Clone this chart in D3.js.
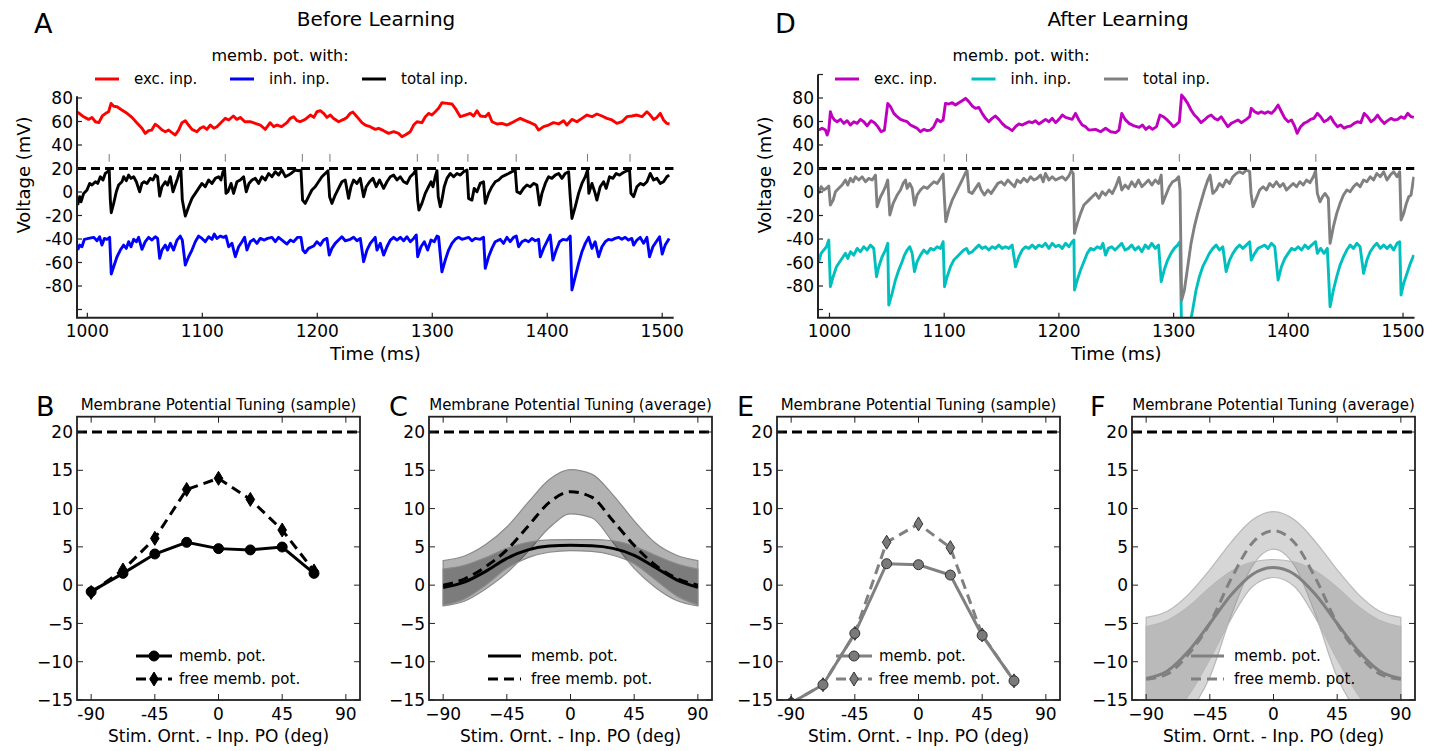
<!DOCTYPE html>
<html><head><meta charset="utf-8">
<script src="https://cdn.jsdelivr.net/npm/d3@7"></script>
<style>
body{margin:0;background:#fff}
text{font-family:"DejaVu Sans",sans-serif;fill:#000}
</style>
</head><body><script>
// ---------- membrane potential traces (time ms, voltage mV) ----------
const excBefore=[[991.6,68],[996.8,64],[1001,61.8],[1004,63.5],[1007,59.8],[1010,59],[1013,64.7],[1016,67],[1018.5,68.3],[1020.6,75.4],[1023,73],[1025.8,72.6],[1030,69.8],[1034.5,67],[1038.8,63.5],[1043,59],[1047.5,54.2],[1050.4,49.9],[1053.3,52.2],[1056,52.7],[1059,57.6],[1062,55.6],[1065,52.7],[1067.8,51.3],[1070.7,52.7],[1073.6,50.5],[1076.5,48.5],[1079.4,52.7],[1082.3,59],[1085.2,60.7],[1088,57],[1091,53.3],[1095.3,51.3],[1098.2,54.2],[1101,55.6],[1104,53.3],[1107,57],[1110,54.2],[1112.7,55.6],[1117,59.8],[1120,62.7],[1123,61.3],[1127,64.7],[1130,61.8],[1133,63.5],[1137,59.8],[1141.7,59.8],[1146,58.4],[1150.4,57],[1154.8,53.3],[1159,59],[1162,55.6],[1165,57],[1169,55.6],[1173.6,59],[1176.5,62.7],[1179.4,64.1],[1182.3,60.7],[1185,59.8],[1189.5,61.8],[1194,65.5],[1197,63.5],[1199.7,68.3],[1202.6,69.2],[1205.5,67],[1208.4,63.5],[1211.3,65.5],[1214,62.7],[1218.5,59.8],[1222.9,61.8],[1225.8,63.5],[1228.7,67],[1231,68],[1234.5,64.1],[1238.8,59],[1241.7,57],[1246,55.6],[1250.4,53.3],[1253.3,54.2],[1257.7,52.2],[1262,49.9],[1266.4,51.3],[1270.7,49.9],[1273.6,47.1],[1276.5,48.5],[1280.9,51.3],[1283.8,57],[1286.7,59.8],[1291,59],[1294,64.1],[1296.8,66.9],[1299.7,65.5],[1302.6,68.3],[1305.5,71.2],[1308.4,76],[1312.8,75.4],[1317.1,74.9],[1320,71.2],[1324.4,64.1],[1328.7,65.5],[1333,66.9],[1336,64.7],[1338.9,69.2],[1341.8,64.7],[1346.1,64.1],[1349,66.9],[1352,59.8],[1356.3,57.9],[1360.6,58.4],[1365,57],[1369.3,59],[1373.6,61.3],[1376.5,62.7],[1380.9,60.7],[1385.2,59],[1389.6,57],[1392.5,52.7],[1396.8,55.6],[1401.2,57],[1405.5,59],[1409.9,57.9],[1414.2,60.7],[1417.1,57],[1421.5,61.8],[1425.8,59.8],[1430.2,62.7],[1434.5,65.5],[1438.9,64.1],[1443.2,66.4],[1447.6,64.7],[1451.9,62.7],[1456.3,61.3],[1460.6,58.4],[1465,59.8],[1469.3,64.1],[1473.6,64.7],[1478,65.5],[1482.4,64.1],[1486.7,68.3],[1489.6,65.5],[1492.5,61.8],[1495.4,63.5],[1498.3,66.9],[1501.2,61.3],[1504,58.4],[1506.4,57.9]];

const inhBefore=[[991.6,-49.4],[993.3,-45.2],[995.3,-46.6],[997.4,-40.3],[1001.1,-39.5],[1005.5,-38.6],[1008.4,-41.5],[1010.7,-38.1],[1012.7,-45.2],[1014.8,-39.5],[1017,-40.3],[1019.4,-38.6],[1020.8,-69.8],[1022.9,-63.6],[1025.8,-55.1],[1028.7,-49.4],[1031.6,-45.2],[1033.9,-48],[1035.9,-42.3],[1038,-46.6],[1040.3,-40.3],[1042.6,-42.3],[1044.6,-38.6],[1047.5,-48.8],[1050.4,-42.3],[1053.3,-38.6],[1056.2,-40.9],[1059.1,-38.1],[1061.1,-39.5],[1062.9,-56.5],[1064.9,-49.4],[1067.8,-45.2],[1069.8,-49.4],[1072.2,-43.7],[1075,-49.4],[1078,-40.9],[1080.8,-37.5],[1082.6,-40.9],[1085.2,-62.2],[1088.1,-55.1],[1091,-49.4],[1093.9,-42.3],[1096.8,-37.5],[1099.7,-39.5],[1102.6,-42.3],[1105.5,-38.1],[1108.4,-40.3],[1110.4,-35.8],[1112.7,-39.5],[1115.6,-37.5],[1118.5,-38.6],[1120.6,-37.5],[1122.9,-46.6],[1125.8,-43.7],[1128.7,-55.1],[1131.6,-46.6],[1134.5,-42.3],[1136.8,-38.6],[1138.8,-49.4],[1141.7,-42.3],[1144.6,-40.3],[1147.5,-43.7],[1150.4,-39.5],[1153.9,-40.9],[1156.8,-39.5],[1160.6,-38.6],[1163.5,-42.3],[1166.3,-38.6],[1169.3,-40.9],[1173.6,-44.3],[1176.5,-40.9],[1179.4,-42.3],[1182.9,-38.6],[1185.8,-38.6],[1187.5,-49.4],[1189.5,-51.7],[1192.4,-48],[1196.8,-46],[1199.7,-42.3],[1202.6,-45.2],[1205.5,-40.9],[1208.4,-39.5],[1210.4,-53.7],[1212.7,-48],[1215.6,-43.7],[1218.5,-40.9],[1221.4,-38.1],[1224.3,-41.5],[1226.4,-40.9],[1228.7,-40.3],[1231.6,-38.6],[1234.5,-41.5],[1237.4,-39.5],[1240.3,-59.3],[1243.2,-49.4],[1246.1,-43.7],[1250.4,-38.6],[1251.9,-49.4],[1254.8,-43.7],[1257.7,-53.7],[1260.6,-46.6],[1263.5,-40.9],[1266.4,-38.6],[1269.3,-40.9],[1272.2,-38.6],[1275.1,-41.5],[1278,-38.1],[1280.9,-42.3],[1283.8,-39.5],[1286.1,-36.6],[1287.3,-55.1],[1290.2,-46.6],[1293.1,-42.3],[1296,-49.4],[1298.9,-40.9],[1301.8,-42.3],[1304.1,-37.5],[1305.5,-38.1],[1308.4,-67.9],[1311.3,-57.9],[1314.2,-49.4],[1317.1,-43.7],[1320,-40.3],[1322.9,-38.6],[1325.8,-40.3],[1328.7,-39.5],[1331.6,-38.6],[1334.5,-41.5],[1337.4,-39.5],[1341.7,-40.3],[1344.6,-38.6],[1346.1,-65],[1349,-55.1],[1351.9,-48],[1354.8,-42.3],[1359.1,-40.3],[1362,-43.7],[1364.9,-38.6],[1367.8,-42.3],[1370.7,-38.6],[1373.1,-37.5],[1375.1,-46.6],[1378,-42.3],[1380.9,-40.9],[1383.8,-42.3],[1386.7,-39.5],[1389.6,-41.5],[1392.5,-40.3],[1394,-55.1],[1396.8,-48],[1399.7,-42.3],[1402.6,-36.6],[1404.9,-57.9],[1407.8,-49.4],[1410.7,-42.3],[1413.6,-40.3],[1417.1,-40.9],[1420,-37.5],[1421.5,-83.4],[1424.4,-72.1],[1427.3,-60.8],[1430.2,-50.8],[1433.1,-43.7],[1436,-38.6],[1438.9,-48],[1441.7,-42.3],[1444.7,-55.1],[1447.6,-46.6],[1450.5,-42.3],[1453.3,-40.3],[1456.2,-40.9],[1459.1,-39.5],[1462,-38.6],[1464.9,-40.3],[1467.8,-38.6],[1470.7,-40.9],[1473.6,-39.5],[1475.1,-45.2],[1478,-40.9],[1480.9,-38.6],[1483.8,-43.7],[1486.7,-38.6],[1489,-55.1],[1491.9,-46.6],[1494.8,-42.3],[1497.7,-38.1],[1500,-52.8],[1502.6,-45.2],[1506.1,-39.5]];

const totalBefore=[[991.6,-11.1],[993.3,-4],[994.5,-8.3],[996.8,-1.2],[999.7,1.7],[1002,7.3],[1004,5.9],[1007,8.7],[1009,7.3],[1011.3,13],[1013.6,10.2],[1015.6,15.8],[1017.7,17.3],[1019,18.7],[1020,-6.9],[1020.8,-17.6],[1022.9,-9.7],[1025.2,0.2],[1027.2,5.9],[1030.1,8.7],[1031.6,13],[1033.9,9.6],[1035.9,14.4],[1038,11.6],[1040.3,13],[1042.6,8.7],[1045.5,0.2],[1047.5,7.3],[1049.5,8.7],[1051.9,7.3],[1054.8,11.6],[1057,10.2],[1059.1,14.4],[1061.1,13],[1062.9,-3.5],[1064.9,4.5],[1067.8,8.7],[1069.8,5.9],[1072.2,13],[1074.5,0.2],[1076.5,5.9],[1078.5,11.6],[1080.3,17.3],[1081.4,18.7],[1082.6,-6.9],[1085.2,-20.5],[1088.1,-12.5],[1091,-5.4],[1093.9,-1.2],[1096.8,3.1],[1099.7,7.3],[1102.6,4.5],[1105.5,10.2],[1108.4,7.3],[1111.3,11.6],[1114.2,13],[1116.2,10.2],[1118,17.3],[1119.4,18.7],[1120.6,-1.2],[1122.3,0.2],[1125,7.3],[1127.2,-1.2],[1130.1,8.7],[1133,10.2],[1135.9,13],[1138.2,0.2],[1140.6,7.3],[1143.2,10.2],[1146.1,11.6],[1149,7.3],[1151.9,13],[1154.8,10.2],[1157.7,15.8],[1160.6,13],[1163.5,17.3],[1166.3,14.4],[1169.3,18.7],[1172.2,13],[1175,14.4],[1178,16.4],[1180.8,18.7],[1183.7,18.1],[1185.8,18.7],[1187.2,-6.9],[1189.5,-9.7],[1192.4,-4],[1195.3,1.7],[1198.2,4.5],[1201.1,8.7],[1204,13],[1206.9,15.8],[1209.3,18.1],[1210.7,-4],[1212.7,-9.7],[1215.6,-2.6],[1218.5,3.1],[1221.4,8.7],[1224.3,10.2],[1227.2,-5.4],[1229.3,4.5],[1231.6,10.2],[1234.5,7.3],[1237.4,11.6],[1240.3,-4],[1242.6,4.5],[1245.5,8.7],[1248.4,11.6],[1251.3,4.5],[1254.2,10.2],[1257.7,3.1],[1260.6,8.7],[1263.5,13],[1266.4,14.4],[1269.3,10.2],[1272.2,13],[1275.1,8.7],[1278,7.3],[1280.9,13],[1283.8,15.8],[1285.8,18.7],[1287.3,-6.9],[1288.4,-15.4],[1291,-9.7],[1293.9,-1.2],[1296.8,4.5],[1298.9,8.7],[1300.6,4.5],[1302.6,13],[1304.1,18.1],[1305.2,-4],[1307,-12.5],[1308.4,-6.9],[1310.4,4.5],[1312.8,11.6],[1315.7,15.8],[1318.6,13],[1321.5,15.8],[1324.4,14.4],[1327.3,17.3],[1330.2,18.7],[1331.6,-5.4],[1334.5,-6.9],[1336.5,3.1],[1338.9,0.2],[1341.7,7.3],[1344.6,8.7],[1346.1,-9.7],[1349,-1.2],[1351.9,4.5],[1354.8,8.7],[1357.7,10.2],[1360.6,13],[1363.5,14.4],[1366.4,15.8],[1369.3,17.3],[1372.2,18.7],[1373.6,0.2],[1376.5,-1.2],[1379.4,3.1],[1382.3,5.9],[1385.2,4.5],[1388.1,7.3],[1391,5.9],[1393.3,-11.1],[1395.4,-1.2],[1398.3,7.3],[1401.2,13],[1404,11.6],[1407,14.4],[1409.9,15.8],[1412.8,11.6],[1415.7,15.8],[1418.6,17.3],[1420,-4],[1421.5,-22.5],[1424.4,-12.5],[1427.3,-1.2],[1430.2,7.3],[1433.1,13],[1435.1,18.7],[1436.2,-1.2],[1438.9,7.3],[1441.7,-1.2],[1443.2,-6.9],[1446.1,4.5],[1449,8.7],[1451.3,3.1],[1454.2,13],[1457.1,11.6],[1460,15.8],[1462.9,14.4],[1465.8,16.4],[1469.3,18.1],[1471.6,18.7],[1472.8,-1.2],[1475.1,-4],[1478,4.5],[1480.9,7.3],[1483.8,5.9],[1486.7,8.7],[1489.6,15.8],[1492.5,10.2],[1495.4,11.6],[1498.3,7.3],[1501.2,8.7],[1504,13],[1506.1,14.4]];

const excAfter=[[990.7,52.7],[993.6,54.2],[996.5,52.7],[998,48.5],[999.4,52.7],[1000.8,68.3],[1002.3,64.1],[1004.3,61.3],[1006.7,59.8],[1009.6,61.8],[1012.5,58.4],[1015.4,60.7],[1018.3,57],[1021.2,59.8],[1024.1,58.4],[1027,61.8],[1029.9,59.8],[1032.8,56.2],[1036.3,60.7],[1039.2,59],[1042.1,55.6],[1045,51.3],[1047.9,52.7],[1050.8,75.4],[1053.2,72.6],[1056.1,66.9],[1059,64.1],[1061.9,61.8],[1064.8,60.7],[1067.7,59.8],[1070.6,57],[1073.5,55.6],[1076.4,54.2],[1079.3,51.3],[1082.2,53.3],[1085.1,52.2],[1088,52.7],[1090.9,55.6],[1093.9,61.8],[1096.8,59.8],[1099.1,61.3],[1101.1,75.4],[1104,74.9],[1107,76],[1109.9,74],[1112.8,76],[1115.7,77.7],[1118.6,79.7],[1121.5,76.9],[1124.4,73.2],[1127.3,71.2],[1130.2,72],[1133.1,66.9],[1136,62.7],[1138.9,59.8],[1141.8,62.7],[1144.7,64.7],[1147.6,61.8],[1150.5,58.4],[1153.5,55.6],[1156.4,54.2],[1159.3,52.2],[1162.2,55.6],[1165.1,57.9],[1168,57],[1170.9,58.4],[1173.8,59.8],[1176.7,59],[1179.6,60.7],[1182.5,57.9],[1185.4,59.8],[1188.3,61.8],[1191.3,59.8],[1194.2,62.7],[1197.1,59],[1200,61.8],[1202.9,65.5],[1205.8,63.5],[1208.7,62.7],[1211.6,61.8],[1214.5,66.9],[1217.4,61.3],[1220.3,57],[1223.2,55.6],[1226.1,52.7],[1232,53.3],[1236.4,51.3],[1240.7,54.2],[1245.1,51.3],[1249.5,50.5],[1252.4,52.7],[1254.8,66.9],[1257.7,61.8],[1261.2,58.4],[1265.6,56.2],[1270,55],[1272.9,57],[1275.8,53.3],[1278.7,55.6],[1281.6,53.3],[1285.1,55.6],[1288.1,65.5],[1291,64.1],[1293.9,61.8],[1296.8,59],[1299.7,55.6],[1302,57],[1305,59.8],[1307,82.5],[1309.4,79.7],[1312.3,75.4],[1315.2,69.8],[1318.1,65.5],[1321,62.7],[1323.9,59],[1326.9,61.3],[1329.8,64.1],[1332.7,65.5],[1335.6,62.7],[1338.5,61.3],[1341.5,64.1],[1344.4,59.8],[1347.3,55.6],[1350.2,58.4],[1353.1,59.8],[1356.1,61.3],[1359,59],[1363.4,61.8],[1366.3,64.1],[1367.7,71.2],[1370.7,68.3],[1373.6,66.9],[1376.5,68.3],[1379.4,66.9],[1382.3,68.3],[1385.3,66.9],[1388.2,69.8],[1391.1,74],[1394,68.3],[1397,62.7],[1399.9,59.8],[1402.8,61.3],[1405.7,55.6],[1407.7,49.9],[1410.7,55.6],[1413.6,58.4],[1416.5,59.8],[1419.4,61.8],[1422.3,62.7],[1425.3,66.9],[1428.2,64.1],[1431.1,59.8],[1434,61.3],[1436.9,64.1],[1439.9,59],[1442.8,55.6],[1445.7,57],[1448.6,54.2],[1451.5,55.6],[1454.5,56.2],[1457.4,58.4],[1460.3,59.8],[1463.2,59],[1466.1,66.9],[1469.1,64.1],[1472,59.8],[1474.9,61.8],[1477.8,65.5],[1480.8,61.3],[1483.7,58.4],[1486.6,60.7],[1489.5,62.7],[1492.4,61.3],[1495.4,61.8],[1498.3,64.1],[1501.2,62.7],[1504.1,66.9],[1507,64.1],[1509.4,63.5]];

const inhAfter=[[990.7,-59.3],[992.7,-52.2],[995,-49.4],[997.4,-46.6],[999.4,-40.9],[1000.8,-80.6],[1003.2,-72.1],[1006.1,-63.6],[1009,-59.3],[1011.9,-55.1],[1013.9,-52.2],[1016,-56.5],[1018.3,-50.8],[1021.2,-53.7],[1024.1,-48],[1027,-50.8],[1029.9,-46.6],[1032.8,-49.4],[1035.7,-45.2],[1038.6,-48],[1041,-72.1],[1043,-63.6],[1045.9,-55.1],[1048.8,-49.4],[1050.8,-43.7],[1051.7,-96.2],[1054.6,-86.3],[1057.5,-74.9],[1060.4,-66.4],[1063.3,-59.3],[1065.4,-53.7],[1067.7,-49.4],[1070,-46.6],[1072.1,-52.2],[1074.1,-67.8],[1076.4,-59.3],[1079.3,-53.7],[1082.2,-49.4],[1085.2,-52.2],[1088.1,-48],[1091,-49.4],[1093.9,-46.6],[1096.8,-48],[1099.1,-42.3],[1100.3,-80.6],[1102.6,-72.1],[1105.5,-63.6],[1108.4,-57.9],[1111.3,-55.1],[1114.2,-52.2],[1117.1,-49.4],[1119.5,-48],[1121.5,-52.2],[1124.4,-50.8],[1127.3,-48],[1130.2,-45.2],[1133.1,-48],[1136,-46.6],[1138.9,-49.4],[1141.8,-46.6],[1144.7,-48],[1147.6,-45.2],[1150.5,-48],[1153.4,-46.6],[1156.4,-48],[1159.3,-45.2],[1162.2,-63.6],[1165.1,-55.1],[1168,-49.4],[1170.9,-46.6],[1173.8,-48],[1176.7,-45.2],[1179.6,-48],[1182.5,-45.2],[1185.4,-46.6],[1188.3,-43.7],[1191.3,-48],[1194.2,-43.7],[1197.1,-46.6],[1200,-45.2],[1202.9,-48],[1205.8,-43.7],[1208.7,-46.6],[1211.6,-42.3],[1213.1,-40.9],[1213.6,-83.4],[1216,-74.9],[1218.9,-66.4],[1221.8,-59.3],[1224.7,-52.2],[1227.6,-48],[1230.5,-49.4],[1233.4,-46.6],[1236.4,-48],[1238.4,-43.7],[1240.7,-53.7],[1243.1,-48],[1246,-46.6],[1248.9,-49.4],[1251.8,-46.6],[1254.8,-43.7],[1257.7,-49.4],[1260.6,-48],[1263.5,-45.2],[1266.4,-49.4],[1269.4,-46.6],[1272.3,-50.8],[1275.2,-45.2],[1278.1,-48],[1281,-43.7],[1284,-48],[1286.9,-45.2],[1289.2,-76.3],[1291.8,-66.4],[1294.8,-57.9],[1297.7,-52.2],[1300.6,-48],[1303.5,-45.2],[1305.6,-42.3],[1307,-120],[1310.8,-131],[1313.7,-114.6],[1316.6,-100.4],[1319.6,-83.4],[1322.5,-72.1],[1325.4,-63.6],[1328.3,-57.9],[1331.2,-52.2],[1334.2,-48],[1337.1,-45.2],[1340,-49.4],[1342.9,-46.6],[1345.8,-67.8],[1348.8,-57.9],[1351.7,-52.2],[1354.6,-48],[1357.5,-45.2],[1360.4,-48],[1363.4,-45.2],[1366.3,-42.3],[1367.7,-57.9],[1370.7,-52.2],[1373.6,-48],[1376.5,-46.6],[1379.4,-45.2],[1382.3,-48],[1385.3,-43.7],[1388.2,-46.6],[1391.1,-74.9],[1394,-63.6],[1397,-56.5],[1399.9,-52.2],[1402.8,-48],[1405.7,-49.4],[1408.6,-46.6],[1411.5,-49.4],[1414.5,-45.2],[1417.4,-48],[1420.3,-45.2],[1423.8,-42.3],[1425.3,-52.2],[1428.2,-48],[1431.1,-52.2],[1434,-48],[1436.4,-97.6],[1439.3,-83.4],[1442.2,-72.1],[1445.1,-62.2],[1448.1,-55.1],[1451,-49.4],[1453.9,-45.2],[1456.8,-48],[1459.7,-43.7],[1462.6,-46.6],[1465.6,-69.2],[1468.5,-57.9],[1471.4,-50.8],[1474.3,-46.6],[1477.2,-43.7],[1480.2,-48],[1483.1,-45.2],[1486,-48],[1488.9,-45.2],[1491.8,-49.4],[1494.8,-43.7],[1497.1,-42.3],[1498.3,-87.7],[1500.6,-77.7],[1503.5,-69.2],[1506.4,-60.7],[1509.4,-53.7]];

const totalAfter=[[990.7,-1.2],[992.7,4.5],[995,1.7],[997.4,3.1],[999.4,5.1],[1000.8,-11.1],[1003.2,-6.9],[1005.2,0.2],[1008.1,3.1],[1011,5.9],[1013.9,10.2],[1016,5.9],[1018.3,11.6],[1020.6,8.7],[1022.6,13],[1025.6,10.2],[1028.5,13],[1031.4,8.7],[1034.3,11.6],[1037.2,10.2],[1040.1,14.4],[1041.5,-12.5],[1044.5,-4],[1046.8,0.2],[1048.8,4.5],[1050.8,10.2],[1052.6,-19.6],[1055.5,-9.7],[1059,-2.6],[1061.9,1.7],[1064.2,7.3],[1066.3,10.2],[1067.7,3.1],[1070,7.3],[1072.1,3.1],[1074.1,-11.1],[1076.4,-2.6],[1079.3,1.7],[1082.2,4.5],[1085.2,3.1],[1088.1,5.9],[1091,8.7],[1093.9,7.3],[1096.8,11.6],[1099.1,15.3],[1100.3,-6.9],[1101.4,-25.3],[1104,-15.4],[1107,-6.9],[1109.9,-1.2],[1112.8,4.5],[1115.7,10.2],[1118.6,16.4],[1120,18.1],[1121.5,0.2],[1124.4,-1.2],[1127.3,3.1],[1130.2,7.3],[1132.2,1.7],[1135.1,-2.6],[1138.1,1.7],[1141,-1.2],[1143.9,3.1],[1146.8,7.3],[1149.7,8.7],[1152.6,5.9],[1155.5,10.2],[1158.4,7.3],[1161.3,4.5],[1163.6,10.2],[1166.5,7.9],[1169.4,11.6],[1172.4,8.7],[1175.3,13],[1178.2,10.2],[1181.1,11.6],[1184,14.4],[1186.3,8.7],[1188.3,15.8],[1191.3,10.2],[1194.2,13],[1197.1,10.2],[1200,11.6],[1202.9,13],[1205.8,10.2],[1208.7,13.6],[1210.7,18.1],[1212.5,15.8],[1213.6,-35.2],[1216,-26.7],[1218.9,-18.2],[1221.8,-11.1],[1226.1,-6.9],[1229.1,-4],[1232,-1.2],[1234.9,-5.4],[1237.8,0.2],[1240.7,-2.6],[1243.7,1.7],[1246.6,-1.2],[1249.5,4.5],[1252.4,12.4],[1254.8,1.7],[1257.7,5.9],[1260.6,3.1],[1263.5,8.7],[1266.4,4.5],[1269.4,10.2],[1272.3,4.5],[1275.2,7.3],[1278.1,10.2],[1281,5.9],[1284,10.2],[1286.9,7.3],[1289.2,14.4],[1290.4,-9.7],[1293.3,-2.6],[1296.2,4.5],[1299.1,8.7],[1302,10.2],[1304.4,13],[1305.6,1.7],[1307,-92],[1309.4,-83.4],[1312.3,-63.6],[1315.2,-43.7],[1318.1,-29.5],[1321,-18.2],[1323.9,-8.3],[1326.9,1.7],[1329.8,10.2],[1331.8,14.4],[1334.2,-1.2],[1337.1,1.7],[1340,7.3],[1342.9,4.5],[1345.8,10.2],[1348.8,7.3],[1351.7,13],[1354.6,15.8],[1357.5,17.3],[1360.4,15.8],[1363.4,18.7],[1366.3,17.3],[1367.5,-1.2],[1369.2,-12.5],[1372.1,-5.4],[1375,1.7],[1378,4.5],[1380.9,1.7],[1383.8,7.3],[1386.7,4.5],[1389.6,8.7],[1392.6,4.5],[1395.5,7.3],[1398.4,1.7],[1401.3,4.5],[1404.2,7.3],[1407.2,4.5],[1410.1,8.7],[1413,5.9],[1415.9,10.2],[1418.8,7.9],[1421.8,13],[1423.8,18.1],[1425.3,-1.2],[1427.6,-8.3],[1429.9,-4],[1432,-1.2],[1434.9,-5.4],[1436.4,-43.7],[1439.3,-29.5],[1442.2,-18.2],[1445.1,-9.7],[1448.1,-2.6],[1451,1.7],[1453.9,0.2],[1456.8,4.5],[1459.7,7.3],[1462.6,4.5],[1465.6,10.2],[1468.5,8.7],[1471.4,13],[1474.3,10.2],[1477.2,15.8],[1480.2,13],[1483.1,17.3],[1486,10.2],[1488.9,14.4],[1491.8,17.3],[1494.8,13],[1497.1,17.3],[1498.3,-23.9],[1500.6,-18.2],[1502.9,-9.7],[1505,-4],[1507,-2.6],[1509.4,13]];

// spike times (ms)
const spikesBefore=[991.5,1019,1081,1120,1187,1211,1287,1305,1331,1373,1435,1472];
const spikesAfter=[1100,1119.5,1212.5,1305,1367,1424];

// ---------- tuning data ----------
const sampleOri=[-90,-67.5,-45,-22.5,0,22.5,45,67.5];
const membBefore=[-0.85,1.54,4.07,5.59,4.77,4.6,4.98,1.54];
const freeBefore=[-0.95,1.98,6.11,12.5,13.95,11.2,7.2,1.85];
const membAfter=[-15.4,-13.0,-6.3,2.8,2.67,1.32,-6.56,-12.5];
const freeAfter=[-15.4,-13.0,-6.3,5.6,8.0,4.9,-6.5,-12.5];

const avgOri=[-90,-75,-60,-45,-30,-15,0,15,30,45,60,75,90];
// before learning averages
const membAvgBefore=[-0.3,0.4,1.8,3.5,4.6,5.1,5.2,5.15,4.8,3.9,2.3,0.7,-0.3];
const membAvgBeforeHi=[2.1,2.6,3.6,4.8,5.6,5.9,5.95,5.95,5.8,5.1,3.9,2.8,2.1];
const membAvgBeforeLo=[-2.6,-1.8,0.0,2.2,3.6,4.3,4.5,4.4,3.9,2.8,0.7,-1.4,-2.6];
const freeAvgBefore=[0.0,0.8,2.4,4.6,7.7,10.8,12.2,11.5,8.4,5.2,2.6,0.9,0.0];
const freeAvgBeforeHi=[3.2,3.8,5.3,7.6,10.8,13.8,15.1,14.5,11.8,8.4,5.5,3.9,3.2];
const freeAvgBeforeLo=[-2.7,-2.1,-0.5,1.6,4.4,7.5,9.3,8.8,5.6,2.2,-0.3,-2.0,-2.7];
// after learning averages
const membAvgAfter=[-12.2,-11.2,-8.6,-5.0,-1.3,1.4,2.3,1.4,-1.3,-5.0,-8.6,-11.2,-12.2];
const membAvgAfterHi=[-5.4,-4.6,-2.8,-0.3,1.8,3.0,3.35,3.0,1.8,-0.3,-2.8,-4.6,-5.4];
const membAvgAfterLo=[-19,-17.8,-14.4,-9.7,-4.4,-0.2,1.0,-0.2,-4.4,-9.7,-14.4,-17.8,-19];
const freeAvgAfter=[-12.3,-11.6,-9.0,-5.0,0.8,5.5,7.1,5.5,0.8,-5.0,-9.0,-11.6,-12.3];
const freeAvgAfterHi=[-4.2,-3.4,-1.2,2.0,5.6,8.5,9.6,8.5,5.6,2.0,-1.2,-3.4,-4.2];
const freeAvgAfterLo=[-20.4,-19.8,-16.8,-12.0,-4.0,2.5,4.7,2.5,-4.0,-12.0,-16.8,-19.8,-20.4];

const timeTicks=[1000,1100,1200,1300,1400,1500];
const voltTicks=[-100,-80,-60,-40,-20,0,20,40,60,80,100];
const voltLabels=[-80,-60,-40,-20,0,20,40,60,80];
const tuneYTicks=[-15,-10,-5,0,5,10,15,20];
const oriTicks=[-90,-45,0,45,90];
const threshold=20;

// ---------- drawing ----------
const svg=d3.select("body").append("svg").attr("width",1439).attr("height",751);
const defs=svg.append("defs");
const hy=v=>String(v);
const um=v=>v<0?"\u2212"+Math.abs(v):String(v);
let clipN=0;
function clip(x0,y0,w,h){const id="clip"+(clipN++);
  defs.append("clipPath").attr("id",id).append("rect").attr("x",x0).attr("y",y0).attr("width",w).attr("height",h);
  return "url(#"+id+")";}

function tracePanel(o){
  const g=svg.append("g");
  const pxmv=1.175, zero=192;
  const x=d3.scaleLinear().domain(o.tDom).range([o.left,o.right]);
  const y=d3.scaleLinear().domain(o.vDom).range([zero-o.vDom[0]*pxmv,zero-o.vDom[1]*pxmv]);
  const cp=clip(o.left,y(o.vDom[1])-2,o.right-o.left,y(o.vDom[0])-y(o.vDom[1])+2);
  const plot=g.append("g").attr("clip-path",cp);
  const line=d3.line().x(d=>x(d[0])).y(d=>y(d[1]));
  o.series.forEach(s=>plot.append("path").datum(s.data).attr("d",line)
    .attr("fill","none").attr("stroke",s.color).attr("stroke-width",2.9).attr("stroke-linejoin","round"));
  plot.append("line").attr("x1",x(o.tDom[0])).attr("x2",x(o.tDom[1])).attr("y1",y(threshold)).attr("y2",y(threshold))
    .attr("stroke","#000").attr("stroke-width",3).attr("stroke-dasharray","9,5");
  plot.selectAll("line.sp").data(o.spikes).enter().append("line").attr("class","sp")
    .attr("x1",d=>x(d)).attr("x2",d=>x(d)).attr("y1",y(32.3)).attr("y2",y(25.8))
    .attr("stroke","#777").attr("stroke-width",1);
  // spines
  const yb=y(o.vDom[0]), yt=y(o.vDom[1]);
  g.append("line").attr("x1",o.left).attr("x2",o.left).attr("y1",yt).attr("y2",yb).attr("stroke","#222").attr("stroke-width",2);
  g.append("line").attr("x1",o.left-1).attr("x2",o.right).attr("y1",yb).attr("y2",yb).attr("stroke","#222").attr("stroke-width",2);
  voltTicks.filter(v=>v>=o.vDom[0]&&v<=o.vDom[1]).forEach(v=>{
    g.append("line").attr("x1",o.left).attr("x2",o.left+5).attr("y1",y(v)).attr("y2",y(v)).attr("stroke","#222").attr("stroke-width",1.2);});
  voltLabels.forEach(v=>g.append("text").attr("x",o.left-4).attr("y",y(v)).attr("dy","0.36em")
    .attr("text-anchor","end").attr("font-size",17).text(hy(v)));
  timeTicks.forEach(t=>{
    g.append("line").attr("x1",x(t)).attr("x2",x(t)).attr("y1",yb).attr("y2",yb-5).attr("stroke","#222").attr("stroke-width",1.2);
    g.append("text").attr("x",x(t)).attr("y",yb+19).attr("text-anchor","middle").attr("font-size",17).text(t);});
  g.append("text").attr("x",(o.left+o.right)/2).attr("y",360).attr("text-anchor","middle").attr("font-size",18).text("Time (ms)");
  g.append("text").attr("transform",`translate(${o.ylabX},175) rotate(-90)`).attr("text-anchor","middle").attr("font-size",18).text("Voltage (mV)");
  g.append("text").attr("x",o.titleX).attr("y",26).attr("text-anchor","middle").attr("font-size",20).text(o.title);
  g.append("text").attr("x",o.letterX).attr("y",33).attr("font-size",27).text(o.letter);
  // legend
  g.append("text").attr("x",o.legTitleX).attr("y",61).attr("text-anchor","middle").attr("font-size",16).text("memb. pot. with:");
  o.series.forEach((s,i)=>{
    const lx=o.legX[i];
    g.append("line").attr("x1",lx).attr("x2",lx+24).attr("y1",79).attr("y2",79).attr("stroke",s.color).attr("stroke-width",3);
    g.append("text").attr("x",lx+39).attr("y",84).attr("font-size",15).text(s.name);
  });
}

tracePanel({left:77,right:673.7,tDom:[991,1510],vDom:[-107,81.5],
  series:[{data:excBefore,color:"#ff0000",name:"exc. inp."},{data:inhBefore,color:"#0000ff",name:"inh. inp."},{data:totalBefore,color:"#000000",name:"total inp."}],
  spikes:spikesBefore,title:"Before Learning",titleX:376,letter:"A",letterX:34,ylabX:30,legTitleX:280,legX:[95,230,362]});
tracePanel({left:818,right:1414.5,tDom:[990,1510],vDom:[-107,100],
  series:[{data:excAfter,color:"#bf00bf",name:"exc. inp."},{data:inhAfter,color:"#00bfbf",name:"inh. inp."},{data:totalAfter,color:"#808080",name:"total inp."}],
  spikes:spikesAfter,title:"After Learning",titleX:1118,letter:"D",letterX:775,ylabX:771,legTitleX:1021,legX:[835,971.5,1104]});

function tuneFrame(o){
  const g=svg.append("g");
  const x=d3.scaleLinear().domain([-100,100]).range([o.left,o.left+283]);
  const y=d3.scaleLinear().domain([-15,22]).range([700,416.7]);
  const cp=clip(o.left,416.7,283,283.3);
  const plot=g.append("g").attr("clip-path",cp);
  plot.append("line").attr("x1",o.left).attr("x2",o.left+283).attr("y1",y(threshold)).attr("y2",y(threshold))
    .attr("stroke","#000").attr("stroke-width",3).attr("stroke-dasharray","10,5");
  const fr=g.append("g");
  fr.append("rect").attr("x",o.left).attr("y",416.7).attr("width",283).attr("height",283.3)
    .attr("fill","none").attr("stroke","#222").attr("stroke-width",1.8);
  oriTicks.forEach(t=>{
    fr.append("line").attr("x1",x(t)).attr("x2",x(t)).attr("y1",700).attr("y2",694).attr("stroke","#222");
    fr.append("line").attr("x1",x(t)).attr("x2",x(t)).attr("y1",416.7).attr("y2",422.7).attr("stroke","#222");
    fr.append("text").attr("x",x(t)).attr("y",720).attr("text-anchor","middle").attr("font-size",17).text(o.uminus?um(t):String(t));
  });
  tuneYTicks.forEach(v=>{
    fr.append("line").attr("x1",o.left).attr("x2",o.left+6).attr("y1",y(v)).attr("y2",y(v)).attr("stroke","#222");
    fr.append("line").attr("x1",o.left+283).attr("x2",o.left+277).attr("y1",y(v)).attr("y2",y(v)).attr("stroke","#222");
    fr.append("text").attr("x",o.left-4).attr("y",y(v)).attr("dy","0.36em").attr("text-anchor","end").attr("font-size",17).text(um(v));
  });
  g.append("text").attr("x",o.left+141.5).attr("y",742).attr("text-anchor","middle").attr("font-size",17).text("Stim. Ornt. - Inp. PO (deg)");
  g.append("text").attr("x",o.left+141.5).attr("y",410).attr("text-anchor","middle").attr("font-size",15).text(o.title);
  g.append("text").attr("x",o.letterX).attr("y",416).attr("font-size",27).text(o.letter);
  return {g,plot,x,y};
}

const diamond="M0,-7L4.3,0L0,7L-4.3,0Z";
function samplePanel(o){
  const f=tuneFrame(o);
  const line=d3.line().x((d,i)=>f.x(sampleOri[i])).y(d=>f.y(d));
  [[o.memb,null],[o.free,"10,6"]].forEach(([vals,dash])=>{
    const p=f.plot.append("path").datum(vals).attr("d",line).attr("fill","none")
      .attr("stroke",o.color).attr("stroke-width",3);
    if(dash)p.attr("stroke-dasharray",dash);
  });
  f.plot.selectAll("path.dm").data(o.free).enter().append("path").attr("class","dm")
    .attr("transform",(d,i)=>`translate(${f.x(sampleOri[i])},${f.y(d)})`).attr("d",diamond)
    .attr("fill",o.mfill).attr("stroke",o.medge).attr("stroke-width",1);
  f.plot.selectAll("circle.mc").data(o.memb).enter().append("circle").attr("class","mc")
    .attr("cx",(d,i)=>f.x(sampleOri[i])).attr("cy",d=>f.y(d)).attr("r",5)
    .attr("fill",o.mfill).attr("stroke",o.medge).attr("stroke-width",1);
  // legend
  const lx=o.left+59;
  f.g.append("line").attr("x1",lx).attr("x2",lx+36).attr("y1",656).attr("y2",656).attr("stroke",o.color).attr("stroke-width",3);
  f.g.append("circle").attr("cx",lx+18).attr("cy",656).attr("r",5).attr("fill",o.mfill).attr("stroke",o.medge);
  f.g.append("line").attr("x1",lx).attr("x2",lx+36).attr("y1",679).attr("y2",679).attr("stroke",o.color).attr("stroke-width",3).attr("stroke-dasharray","10,6");
  f.g.append("path").attr("transform",`translate(${lx+18},679)`).attr("d",diamond).attr("fill",o.mfill).attr("stroke",o.medge);
  f.g.append("text").attr("x",lx+43).attr("y",661).attr("font-size",15).text("memb. pot.");
  f.g.append("text").attr("x",lx+43).attr("y",684).attr("font-size",15).text("free memb. pot.");
}

function averagePanel(o){
  const f=tuneFrame(o);
  const area=d3.area().x((d,i)=>f.x(avgOri[i])).y0(d=>f.y(d[0])).y1(d=>f.y(d[1])).curve(d3.curveMonotoneX);
  const line=d3.line().x((d,i)=>f.x(avgOri[i])).y(d=>f.y(d)).curve(d3.curveMonotoneX);
  [[o.freeLo,o.freeHi],[o.membLo,o.membHi]].forEach(([lo,hi])=>{
    f.plot.append("path").datum(lo.map((v,i)=>[v,hi[i]])).attr("d",area)
      .attr("fill",o.band).attr("fill-opacity",o.alpha).attr("stroke",o.bandEdge).attr("stroke-width",1.2);
  });
  f.plot.append("path").datum(o.memb).attr("d",line).attr("fill","none").attr("stroke",o.color).attr("stroke-width",3);
  f.plot.append("path").datum(o.free).attr("d",line).attr("fill","none").attr("stroke",o.color).attr("stroke-width",3).attr("stroke-dasharray","10,6");
  const lx=o.left+59;
  f.g.append("line").attr("x1",lx).attr("x2",lx+33).attr("y1",656).attr("y2",656).attr("stroke",o.color).attr("stroke-width",3);
  f.g.append("line").attr("x1",lx).attr("x2",lx+33).attr("y1",679).attr("y2",679).attr("stroke",o.color).attr("stroke-width",3).attr("stroke-dasharray","10,6");
  f.g.append("text").attr("x",lx+43).attr("y",661).attr("font-size",15).text("memb. pot.");
  f.g.append("text").attr("x",lx+43).attr("y",684).attr("font-size",15).text("free memb. pot.");
}

samplePanel({left:77,title:"Membrane Potential Tuning (sample)",letter:"B",letterX:36,uminus:false,
  memb:membBefore,free:freeBefore,color:"#000",mfill:"#000",medge:"#000"});
averagePanel({left:429,title:"Membrane Potential Tuning (average)",letter:"C",letterX:389,uminus:true,
  memb:membAvgBefore,membHi:membAvgBeforeHi,membLo:membAvgBeforeLo,free:freeAvgBefore,freeHi:freeAvgBeforeHi,freeLo:freeAvgBeforeLo,
  color:"#000",band:"#000",alpha:0.3,bandEdge:"#8a8a8a"});
samplePanel({left:777,title:"Membrane Potential Tuning (sample)",letter:"E",letterX:737,uminus:false,
  memb:membAfter,free:freeAfter,color:"#808080",mfill:"#7a7a7a",medge:"#333"});
averagePanel({left:1132,title:"Membrane Potential Tuning (average)",letter:"F",letterX:1090,uminus:true,
  memb:membAvgAfter,membHi:membAvgAfterHi,membLo:membAvgAfterLo,free:freeAvgAfter,freeHi:freeAvgAfterHi,freeLo:freeAvgAfterLo,
  color:"#808080",band:"#808080",alpha:0.32,bandEdge:"#b8b8b8"});
</script></body></html>
